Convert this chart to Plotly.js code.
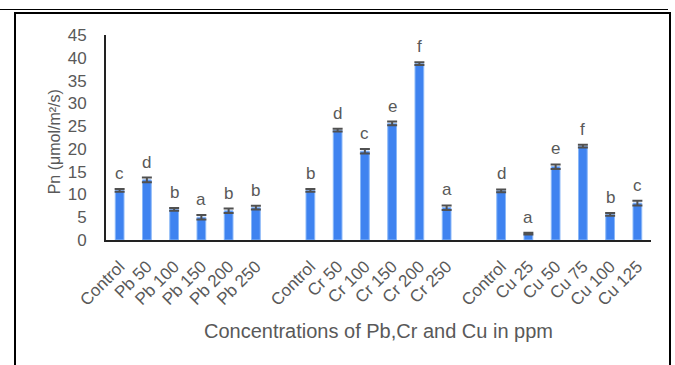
<!DOCTYPE html>
<html><head><meta charset="utf-8">
<script src="https://cdn.plot.ly/plotly-3.0.1.min.js"></script>
<style>
html,body{margin:0;padding:0;background:#fff;}
#wrap{position:relative;width:675px;height:365px;overflow:hidden;}
#chart{position:absolute;left:0;top:0;width:675px;height:365px;}
#topline{position:absolute;left:0;top:9px;width:668px;height:0;border-top:1.5px solid #000;}
#box{position:absolute;left:14px;top:12px;width:657px;height:400px;border:2px solid #000;box-sizing:border-box;}
</style></head>
<body><div id="wrap"><div id="topline"></div><div id="box"></div><div id="chart"></div></div>
<script>
const groups = [
  ["Control","Pb 50","Pb 100","Pb 150","Pb 200","Pb 250"],
  ["Control","Cr 50","Cr 100","Cr 150","Cr 200","Cr 250"],
  ["Control","Cu 25","Cu 50","Cu 75","Cu 100","Cu 125"]
];
const pnValues = [
  [10.9, 13.2, 6.7, 5.0, 6.4, 7.1],
  [10.9, 24.1, 19.5, 25.6, 38.7, 7.1],
  [10.8, 1.4, 16.1, 20.6, 5.6, 8.1]
];
const pnErrors = [
  [0.3, 0.5, 0.3, 0.5, 0.5, 0.4],
  [0.3, 0.3, 0.5, 0.4, 0.3, 0.5],
  [0.3, 0.2, 0.5, 0.3, 0.3, 0.5]
];
const letters = [
  ["c","d","b","a","b","b"],
  ["b","d","c","e","f","a"],
  ["d","a","e","f","b","c"]
];
const xTitle = 'Concentrations of Pb,Cr and Cu in ppm';
const yTitle = 'Pn (μmol/m²/s)';

const xs=[], ys=[], es=[], ls=[], tickvals=[], ticktext=[];
let pos=0;
groups.forEach((g,gi)=>{
  g.forEach((lab,i)=>{
    xs.push(pos); ys.push(pnValues[gi][i]); es.push(pnErrors[gi][i]); ls.push(letters[gi][i]);
    tickvals.push(pos); ticktext.push(lab); pos++;
  });
  if(gi<groups.length-1) pos++;
});
const font = "Arial, 'Liberation Sans', sans-serif";
const grey = "#595959";
const annotations = xs.map((x,i)=>({
  x:x, y:ys[i]+es[i], xref:'x', yref:'y', text:ls[i], showarrow:false,
  yanchor:'bottom', yshift:4, font:{family:font,size:17,color:grey}
}));
annotations.push({
  xref:'paper', yref:'paper', x:-0.094, y:0.48, text:yTitle, textangle:-90,
  showarrow:false, xanchor:'center', yanchor:'middle', font:{family:font,size:16,color:grey}
});
const trace = {
  type:'bar', x:xs, y:ys,
  marker:{color:'#3f83f0', line:{color:'#8ab8f8', width:1}},
  error_y:{type:'data', array:es, visible:true, color:'#505050', thickness:2, width:5}
};
const layout = {
  width:675, height:365,
  margin:{l:106, r:24, t:35, b:125},
  paper_bgcolor:'rgba(0,0,0,0)', plot_bgcolor:'rgba(0,0,0,0)',
  bargap:0.68, showlegend:false,
  font:{family:font, color:grey},
  xaxis:{range:[-0.5, pos-0.5], tickvals:tickvals, ticktext:ticktext, tickangle:-45,
    showline:true, linecolor:'#222', linewidth:2, showgrid:false, zeroline:false, ticks:'',
    ticklabelstandoff:8,
    tickfont:{family:font,size:17,color:grey},
    title:{text:xTitle, font:{family:font,size:20,color:grey}, standoff:15}},
  yaxis:{range:[0,45], dtick:5, showline:true, linecolor:'#222', linewidth:2, showgrid:false,
    zeroline:false, ticks:'', ticklabelstandoff:14, tickfont:{family:font,size:17,color:grey}},
  annotations:annotations
};
Plotly.newPlot('chart',[trace],layout,{displayModeBar:false, staticPlot:true});
</script></body></html>
